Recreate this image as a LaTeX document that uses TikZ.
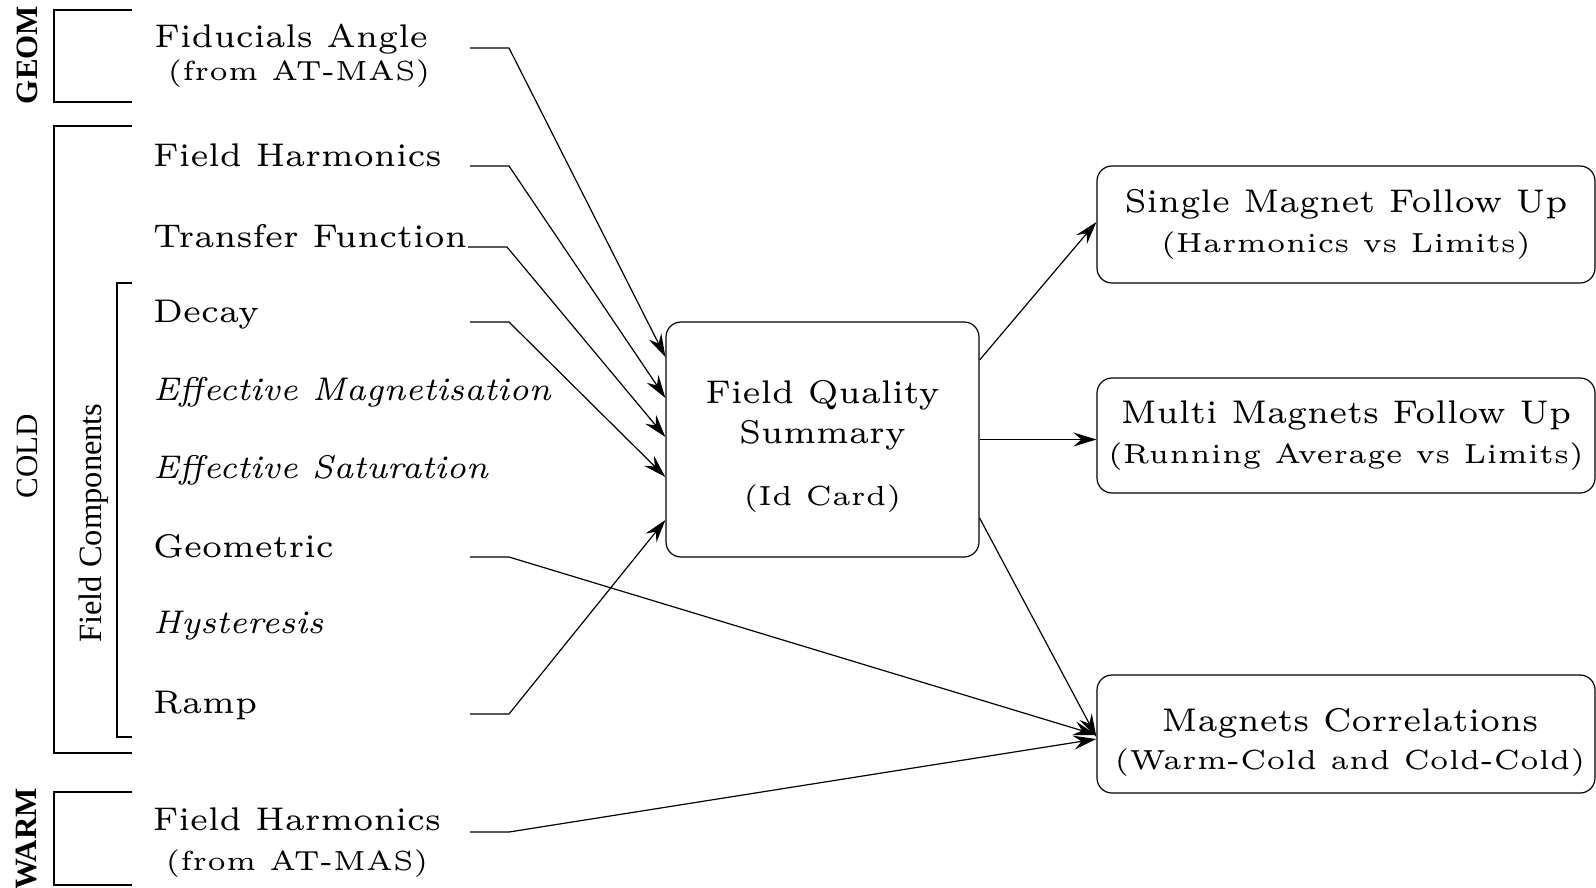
\documentclass[tikz,border=0pt]{standalone}
\usepackage{fontspec}
\setmainfont{lmroman6-regular.otf}[ItalicFont=lmroman7-italic.otf, BoldFont=lmroman6-bold.otf]
\newfontfamily\subfam{lmroman5-regular.otf}
\newfontfamily\tms{Liberation Serif}
\usetikzlibrary{arrows.meta,calc}
\newcommand\subf{\subfam\fontsize{27.6}{40}\selectfont}
\begin{document}
\begin{tikzpicture}[x=1pt,y=-1pt,
  txt/.style={font=\fontsize{32.8}{40}\selectfont, inner sep=0pt, anchor=base west},
  two/.style={font=\fontsize{32.8}{40}\selectfont, inner sep=0pt, align=center, anchor=base},
  box/.style={draw, rounded corners=15pt, line width=1.2pt, align=center, inner sep=0pt,
    font=\fontsize{32.8}{40}\selectfont},
  con/.style={line width=1.2pt, -{Stealth[length=23pt,width=14pt,inset=8pt]}},
  brk/.style={line width=1.2pt},
  side/.style={font=\tms\fontsize{31}{36}\selectfont, rotate=90, inner sep=0pt}
]
\useasboundingbox (0,0) rectangle (1596,887);

% brackets and side labels
\draw[brk] (132,10) -- (54,10) -- (54,102) -- (132,102);
\draw[brk] (132,126) -- (54,126) -- (54,753) -- (132,753);
\draw[brk] (132,283) -- (117,283) -- (117,737) -- (132,737);
\draw[brk] (132,792) -- (54,792) -- (54,885) -- (132,885);
\node[side, font=\tms\bfseries\fontsize{31}{36}\selectfont] (geom) at (27,55) {GEOM};
\node[side] (cold) at (27,456) {COLD};
\node[side, font=\tms\fontsize{32.5}{36}\selectfont] (fcomp) at (94,523) {Field Components};
\node[side, font=\tms\bfseries\fontsize{31}{36}\selectfont] (warm) at (27,839) {WARM};

% left items
\node[two] (fid) at (293,80) {Fiducials Angle\hspace*{4pt}\\[-7pt]{\subf\hspace*{12pt}(from AT-MAS)}};
\node[txt] (fh) at (153,166) {Field Harmonics};
\node[txt] (tf) at (153,247) {Transfer Function};
\node[txt] (dec) at (153,322) {Decay};
\node[txt] (em) at (153,400) {\itshape Effective Magnetisation};
\node[txt] (es) at (153,478) {\itshape Effective Saturation};
\node[txt] (geo) at (153,557) {Geometric};
\node[txt] (hys) at (153,633) {\itshape Hysteresis};
\node[txt] (ramp) at (153,713) {Ramp};
\node[two] (wfh) at (297,870) {Field Harmonics\\{\subf (from AT-MAS)}};

% boxes
\node[box, minimum width=313pt, minimum height=235pt] (fq) at (822.5,439.5)
  {\rule{0pt}{36pt}Field Quality\\Summary\\[22pt]{\subf (Id Card)}};
\node[box, minimum width=498pt, minimum height=117pt] (single) at (1346,224.5)
  {Single Magnet Follow Up\\{\subf (Harmonics vs Limits)}};
\node[box, minimum width=498pt, minimum height=115pt] (multi) at (1346,435.5)
  {Multi Magnets Follow Up\\{\subf (Running Average vs Limits)}};
\node[box, minimum width=498pt, minimum height=118pt] (corr) at (1346,734)
  {\rule{0pt}{40pt}\hspace*{8pt}Magnets Correlations\\[-2pt]{\subf\hspace*{8pt}(Warm-Cold and Cold-Cold)}};

% connector start points
\coordinate (s1) at (470,48);
\coordinate (s2) at (470,166);
\coordinate (s3) at (468,247);
\coordinate (s4) at (470,322);
\coordinate (s5) at (470,557);
\coordinate (s6) at (470,714);
\coordinate (s7) at (470,832);

\draw[con] (s1) -- ++(39,0) -- ($(fq.west)+(0,-82.5)$);
\draw[con] (s2) -- ++(39,0) -- ($(fq.west)+(0,-41.5)$);
\draw[con] (s3) -- ++(39,0) -- ($(fq.west)+(0,-2.5)$);
\draw[con] (s4) -- ++(39,0) -- ($(fq.west)+(0,37.5)$);
\draw[con] (s6) -- ++(39,0) -- ($(fq.west)+(0,80.5)$);
\draw[con] (s5) -- ++(39,0) -- ($(corr.west)+(0,1)$);
\draw[con] (s7) -- ++(39,0) -- ($(corr.west)+(0,5)$);

\draw[con] ($(fq.east)+(0,-79.5)$) -- ($(single.west)+(0,-2.5)$);
\draw[con] (fq.east) -- (fq.east -| multi.west);
\draw[con] ($(fq.east)+(0,78.5)$) -- ($(corr.west)+(0,3)$);
\end{tikzpicture}
\end{document}
